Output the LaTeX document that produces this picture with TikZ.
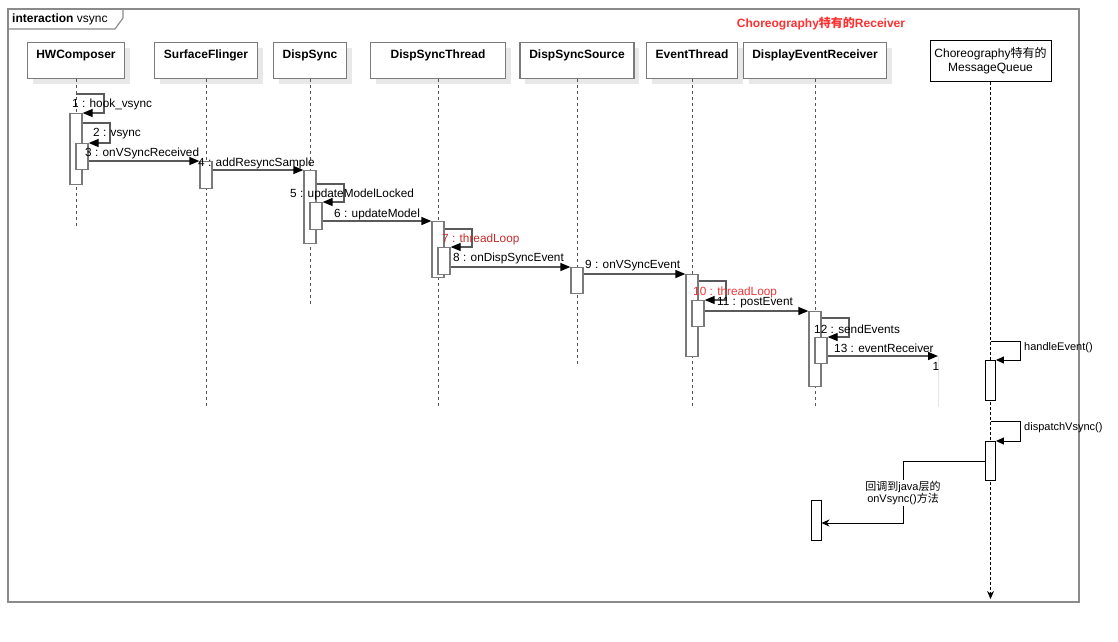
\documentclass[tikz,border=0pt]{standalone}
\usepackage{fontspec}
\setmainfont{Liberation Sans}
\newfontfamily\cjk{Noto Sans CJK SC}
\usetikzlibrary{arrows.meta,shadows}

\definecolor{framegray}{HTML}{8A8A8A}
\definecolor{boxgray}{HTML}{7A7A7A}
\definecolor{shadowgray}{HTML}{E8E8E8}
\definecolor{lifegray}{HTML}{555555}
\definecolor{msggray}{HTML}{5A5A5A}
\definecolor{loopred}{HTML}{C62A2A}
\definecolor{loopredb}{HTML}{E8383D}
\definecolor{titlered}{HTML}{FF3030}

\begin{document}
\begin{tikzpicture}[x=1pt,y=-1pt,line join=miter,
  head/.style={draw=boxgray,line width=1.3pt,fill=white,anchor=north,
    inner xsep=0pt,inner ysep=4pt,text height=12.3pt,text depth=15.7pt,
    font=\fontsize{12}{14}\selectfont\bfseries,
    drop shadow={shadow xshift=5pt,shadow yshift=-5pt,fill=shadowgray,opacity=1}},
  act/.style={draw=boxgray,line width=1.3pt,fill=white,anchor=north,
    minimum width=12pt,inner sep=0pt},
  mqact/.style={draw=black,line width=0.9pt,fill=white,anchor=north,
    minimum width=10pt,inner sep=0pt},
  life/.style={draw=lifegray,line width=1pt,dash pattern=on 3pt off 3pt},
  msg/.style={draw=msggray,line width=1.3pt,-{Triangle[length=10pt,width=8pt,color=black]}},
  mqmsg/.style={draw=black,line width=0.9pt,-{Triangle[length=8pt,width=7pt]}},
  lbl/.style={anchor=west,inner sep=0pt,font=\fontsize{11.8}{13}\selectfont},
  note/.style={anchor=west,inner sep=0pt,font=\fontsize{11}{12.7}\selectfont}]

  \useasboundingbox (0,0) rectangle (1118,641);

  % frame and tab
  \draw[framegray,line width=1.4pt] (8,9) rectangle (1079,602);
  \draw[framegray,line width=1.2pt] (8,29) -- (115,29) -- (123,18) -- (123,9);
  \node[anchor=west,inner sep=0pt,font=\fontsize{12}{14}\selectfont] (tab) at (12,19) {\textbf{interaction} vsync};
  \node[inner sep=0pt,text=titlered,font=\fontsize{12}{14}\selectfont\bfseries] (title) at (821,24) {Choreography{\cjk 特有的}Receiver};

  % lifeline heads
  \node[head,minimum width=97pt] (hwc) at (76,42) {HWComposer};
  \node[head,minimum width=103pt] (sfl) at (206,42) {SurfaceFlinger};
  \node[head,minimum width=73pt] (dsy) at (310,42) {DispSync};
  \node[head,minimum width=135pt] (dst) at (438,42) {DispSyncThread};
  \node[head,minimum width=114pt] (dss) at (577,42) {DispSyncSource};
  \node[head,minimum width=91pt] (evt) at (692,42) {EventThread};
  \node[head,minimum width=143pt] (der) at (815,42) {DisplayEventReceiver};
  \node[draw=black,line width=0.9pt,fill=white,anchor=north,minimum width=121pt,minimum height=41pt,
    align=center,inner sep=0pt,font=\fontsize{12}{14}\selectfont] (mq) at (990.5,40) {Choreography{\cjk 特有的}\\MessageQueue};

  % lifelines
  \draw[life] (hwc.south) -- (76,228);
  \draw[life] (sfl.south) -- (206,408);
  \draw[life] (dsy.south) -- (310,306);
  \draw[life] (dst.south) -- (438,408);
  \draw[life] (dss.south) -- (577,367);
  \draw[life] (evt.south) -- (692,407);
  \draw[life] (der.south) -- (815,407);
  \draw[draw=black,line width=0.9pt,dash pattern=on 3pt off 2pt,-{Stealth[length=8pt,width=7pt]}] (mq.south) -- (990.5,599);

  % activations
  \node[act,minimum height=71pt] (hw1) at (76,113) {};
  \node[act,minimum height=26pt] (hw2) at (82,143) {};
  \node[act,minimum height=27pt] (sf1) at (206,161) {};
  \node[act,minimum height=73pt] (ds1) at (310,170) {};
  \node[act,minimum height=27pt] (ds2) at (316,202) {};
  \node[act,minimum height=56pt] (dst1) at (438,221) {};
  \node[act,minimum height=27pt] (dst2) at (444,247) {};
  \node[act,minimum height=26pt] (dss1) at (577,267) {};
  \node[act,minimum height=82pt] (et1) at (692,274) {};
  \node[act,minimum height=26pt] (et2) at (698,300) {};
  \node[act,minimum height=75pt] (der1) at (815,311) {};
  \node[act,minimum height=26pt] (der2) at (821,337) {};
  \node[mqact,minimum height=40pt] (mq1) at (990.5,360) {};
  \node[mqact,minimum height=39pt] (mq2) at (990.5,441) {};
  \node[mqact,minimum height=40pt] (cb) at (816,500) {};

  % self calls
  \draw[msg] (hwc.south |- 0,94) -| (104,113) -- (hw1.north east);
  \draw[msg] (hw1.east |- 0,123) -| (110,143) -- (hw2.north east);
  \draw[msg] (ds1.east |- 0,184) -| (344,202) -- (ds2.north east);
  \draw[msg] (dst1.east |- 0,229) -| (472,247) -- (dst2.north east);
  \draw[msg] (et1.east |- 0,281) -| (726,300) -- (et2.north east);
  \draw[msg] (der1.east |- 0,318) -| (849,337) -- (der2.north east);

  % calls
  \draw[msg] (hw2.east |- sf1.north) -- (sf1.north west);
  \draw[msg] (sf1.east |- ds1.north) -- (ds1.north west);
  \draw[msg] (ds2.east |- dst1.north) -- (dst1.north west);
  \draw[msg] (dst2.east |- dss1.north) -- (dss1.north west);
  \draw[msg] (dss1.east |- et1.north) -- (et1.north west);
  \draw[msg] (et2.east |- der1.north) -- (der1.north west);
  \coordinate (rcv) at (938,356);
  \draw[msg] (der2.east |- rcv) -- (rcv);
  \draw[black!10,line width=1pt] (rcv) -- (938,407);

  \node[lbl] (t1) at (72,104) {1 : hook\_vsync};
  \node[lbl] (t2) at (93,134) {2 : vsync};
  \node[lbl] (t3) at (85,153) {3 : onVSyncReceived};
  \node[lbl] (t4) at (198,163) {4 : addResyncSample};
  \node[lbl] (t5) at (290,194) {5 : updateModelLocked};
  \node[lbl] (t6) at (334,214) {6 : updateModel};
  \node[lbl,text=loopred] (t7) at (442,239) {7 : threadLoop};
  \node[lbl] (t8) at (453,258) {8 : onDispSyncEvent};
  \node[lbl] (t9) at (585,266) {9 : onVSyncEvent};
  \node[lbl,text=loopredb] (t10) at (693,292) {10 : threadLoop};
  \node[lbl] (t11) at (717,303) {11 : postEvent};
  \node[lbl] (t12) at (814,329) {12 : sendEvents};
  \node[lbl] (t13) at (834,348) {13 : eventReceiver};
  \node[inner sep=0pt,font=\fontsize{11.8}{13}\selectfont] (t13n) at (936,366) {1};

  % message queue side
  \draw[mqmsg] (mq.south |- 0,341) -| (1020,360) -- (mq1.north east);
  \node[note] (he) at (1024,348) {handleEvent()};
  \draw[mqmsg] (mq.south |- 0,421) -| (1020,441) -- (mq2.north east);
  \node[note] (dv) at (1024,428) {dispatchVsync()};
  \draw[draw=black,line width=0.9pt,-{Stealth[length=8pt,width=7pt]}] (mq2.west |- 0,461) -| (903,523) -- (cb.east |- 0,523);
  \node[fill=white,inner sep=1pt,align=center,font=\fontsize{11}{12.7}\selectfont] (cbt) at (903,493) {{\cjk 回调到}java{\cjk 层的}\\onVsync(){\cjk 方法}};

\end{tikzpicture}
\end{document}
